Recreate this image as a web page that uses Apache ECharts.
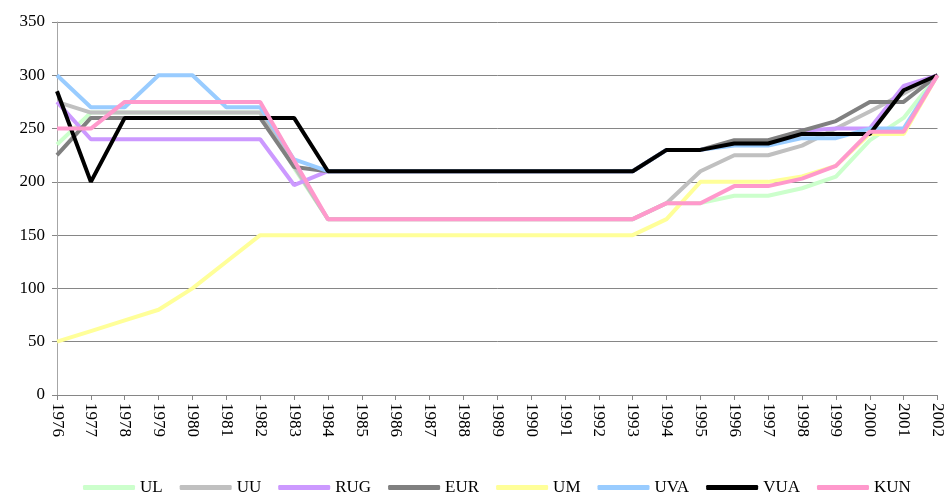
<!DOCTYPE html>
<html>
<head>
<meta charset="utf-8">
<script src="https://cdn.jsdelivr.net/npm/echarts@6/dist/echarts.min.js"></script>
<style>
  html, body { margin: 0; padding: 0; background: #fff; }
  #main { width: 946px; height: 503px; }
</style>
</head>
<body>
<div id="main"></div>
<script>
var years = ['1976','1977','1978','1979','1980','1981','1982','1983','1984','1985','1986','1987','1988',
  '1989','1990','1991','1992','1993','1994','1995','1996','1997','1998','1999','2000','2001','2002'];

var UL  = [235, 265, 265, 265, 265, 265, 265, 213, 165, 165, 165, 165, 165, 165, 165, 165, 165, 165, 180, 180, 187, 187, 194, 205, 239, 260, 300];
var UU  = [275, 265, 265, 265, 265, 265, 265, 215, 165, 165, 165, 165, 165, 165, 165, 165, 165, 165, 180, 210, 225, 225, 234, 250, 266, 283, 300];
var RUG = [275, 240, 240, 240, 240, 240, 240, 197, 210, 210, 210, 210, 210, 210, 210, 210, 210, 210, 230, 230, 236, 236, 248, 250, 250, 290, 300];
var EUR = [225, 260, 260, 260, 260, 260, 260, 214, 210, 210, 210, 210, 210, 210, 210, 210, 210, 210, 230, 230, 239, 239, 248, 257, 275, 275, 300];
var UM  = [50, 60, 70, 80, 100, 125, 150, 150, 150, 150, 150, 150, 150, 150, 150, 150, 150, 150, 165, 200, 200, 200, 205, 215, 245, 245, 300];
var UVA = [300, 270, 270, 300, 300, 270, 270, 221, 210, 210, 210, 210, 210, 210, 210, 210, 210, 210, 230, 230, 234, 234, 241, 241, 250, 250, 300];
var VUA = [285, 200, 260, 260, 260, 260, 260, 260, 210, 210, 210, 210, 210, 210, 210, 210, 210, 210, 230, 230, 236, 236, 245, 245, 245, 286, 300];
var KUN = [250, 250, 275, 275, 275, 275, 275, 220, 165, 165, 165, 165, 165, 165, 165, 165, 165, 165, 180, 180, 196, 196, 203, 215, 247, 247, 300];

var names  = ['UL', 'UU', 'RUG', 'EUR', 'UM', 'UVA', 'VUA', 'KUN'];
var values = [UL, UU, RUG, EUR, UM, UVA, VUA, KUN];
var colors = ['#ccffcc', '#c0c0c0', '#cc99ff', '#808080', '#ffff99', '#99ccff', '#000000', '#ff99cc'];

var font = '"Liberation Serif", "Times New Roman", serif';

var myChart = echarts.init(document.getElementById('main'));
var option = {
  animation: false,
  color: colors,
  grid: {
    left: 57,
    right: 8,
    top: 22,
    bottom: 108
  },
  legend: {
    bottom: 2,
    left: 78,
    icon: 'roundRect',
    itemWidth: 52,
    itemHeight: 5,
    itemGap: 17,
    textStyle: { fontFamily: font, fontSize: 17, color: '#000' },
    data: names
  },
  xAxis: {
    type: 'category',
    data: years,
    boundaryGap: false,
    axisLine: { lineStyle: { color: '#868686' } },
    axisTick: { show: true, alignWithLabel: true, length: 5, lineStyle: { color: '#868686' } },
    axisLabel: {
      interval: 0,
      rotate: -90,
      margin: 8,
      fontFamily: font,
      fontSize: 17,
      color: '#000'
    }
  },
  yAxis: {
    type: 'value',
    min: 0,
    max: 350,
    interval: 50,
    axisLine: { show: true, lineStyle: { color: '#a6a6a6' } },
    axisTick: { show: true, length: 5, lineStyle: { color: '#868686' } },
    axisLabel: { fontFamily: font, fontSize: 17, color: '#000', margin: 12 },
    splitLine: { lineStyle: { color: '#868686' } }
  },
  series: names.map(function (n, i) {
    return {
      name: n,
      type: 'line',
      data: values[i],
      symbol: 'none',
      lineStyle: { width: 4, color: colors[i] },
      itemStyle: { color: colors[i] }
    };
  })
};
myChart.setOption(option);
</script>
</body>
</html>
